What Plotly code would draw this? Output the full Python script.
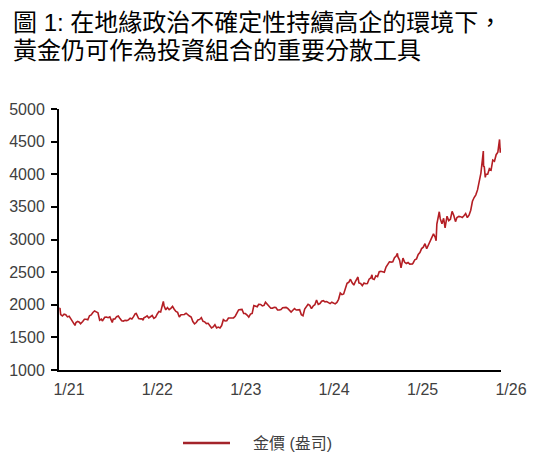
import plotly.graph_objects as go

# ---- data (USD / oz) ----
dates_2021 = ["2021-01-04","2021-01-05","2021-01-08","2021-01-15","2021-01-22","2021-01-29","2021-02-05","2021-02-12",
              "2021-02-19","2021-02-26","2021-03-05","2021-03-08","2021-03-12","2021-03-19","2021-03-26","2021-03-31",
              "2021-04-09","2021-04-16","2021-04-23","2021-04-30","2021-05-07","2021-05-14","2021-05-21","2021-05-28",
              "2021-06-04","2021-06-11","2021-06-18","2021-06-25","2021-06-29","2021-07-09","2021-07-16","2021-07-23",
              "2021-07-30","2021-08-06","2021-08-09","2021-08-13","2021-08-20","2021-08-27","2021-09-03","2021-09-10",
              "2021-09-17","2021-09-24","2021-10-01","2021-10-08","2021-10-15","2021-10-22","2021-10-29","2021-11-05",
              "2021-11-12","2021-11-16","2021-11-19","2021-11-26","2021-12-03","2021-12-10","2021-12-15","2021-12-17",
              "2021-12-24","2021-12-31"]
price_2021 = [1944,1950,1850,1828,1855,1848,1814,1824,
              1784,1734,1700,1683,1727,1745,1732,1708,
              1744,1777,1777,1769,1831,1844,1881,1905,
              1891,1877,1764,1781,1751,1808,1812,1802,
              1814,1763,1729,1780,1781,1818,1827,1788,
              1754,1750,1761,1757,1768,1793,1783,1818,
              1864,1867,1846,1788,1783,1783,1764,1798,
              1811,1829]

dates_2022 = ["2022-01-07","2022-01-14","2022-01-21","2022-01-28","2022-02-04","2022-02-11","2022-02-18","2022-02-25",
              "2022-03-04","2022-03-08","2022-03-11","2022-03-18","2022-03-25","2022-04-01","2022-04-08","2022-04-15",
              "2022-04-22","2022-04-29","2022-05-06","2022-05-13","2022-05-20","2022-05-27","2022-06-03","2022-06-10",
              "2022-06-17","2022-06-24","2022-07-01","2022-07-08","2022-07-15","2022-07-22","2022-07-29","2022-08-05",
              "2022-08-12","2022-08-19","2022-08-26","2022-09-02","2022-09-09","2022-09-16","2022-09-23","2022-09-30",
              "2022-10-07","2022-10-14","2022-10-21","2022-10-28","2022-11-04","2022-11-11","2022-11-18","2022-11-25",
              "2022-12-02","2022-12-09","2022-12-16","2022-12-23","2022-12-30"]
price_2022 = [1797,1818,1835,1791,1808,1859,1898,1889,
              1970,2050,1985,1921,1958,1925,1945,1975,
              1931,1897,1883,1811,1846,1853,1851,1871,
              1840,1827,1811,1742,1708,1727,1766,1775,
              1802,1747,1738,1712,1716,1675,1644,1661,
              1695,1644,1657,1645,1681,1771,1751,1755,
              1797,1797,1793,1798,1824]

dates_2023 = ["2023-01-06","2023-01-13","2023-01-20","2023-01-27","2023-02-03","2023-02-10","2023-02-17","2023-02-24",
              "2023-03-03","2023-03-10","2023-03-17","2023-03-24","2023-03-31","2023-04-06","2023-04-14","2023-04-21",
              "2023-04-28","2023-05-04","2023-05-12","2023-05-19","2023-05-26","2023-06-02","2023-06-09","2023-06-16",
              "2023-06-23","2023-06-30","2023-07-07","2023-07-14","2023-07-21","2023-07-28","2023-08-04","2023-08-11",
              "2023-08-18","2023-08-25","2023-09-01","2023-09-08","2023-09-15","2023-09-22","2023-09-29","2023-10-06",
              "2023-10-13","2023-10-20","2023-10-27","2023-11-03","2023-11-10","2023-11-17","2023-11-24","2023-12-01",
              "2023-12-08","2023-12-15","2023-12-22","2023-12-29"]
price_2023 = [1865,1920,1926,1928,1865,1865,1842,1811,
              1856,1868,1989,1978,1969,2007,2004,1983,
              1990,2040,2011,1978,1946,1948,1961,1958,
              1921,1919,1925,1955,1962,1959,1943,1914,
              1889,1915,1940,1919,1924,1925,1849,1833,
              1933,1981,2006,1992,1940,1981,2001,2072,
              2005,2019,2053,2063]

dates_2024 = ["2024-01-05","2024-01-12","2024-01-19","2024-01-26","2024-02-02","2024-02-09","2024-02-16","2024-02-23",
              "2024-03-01","2024-03-08","2024-03-15","2024-03-22","2024-03-28","2024-04-05","2024-04-12","2024-04-19",
              "2024-04-26","2024-05-03","2024-05-10","2024-05-17","2024-05-20","2024-05-24","2024-05-31","2024-06-07",
              "2024-06-14","2024-06-21","2024-06-28","2024-07-05","2024-07-12","2024-07-17","2024-07-19","2024-07-26",
              "2024-08-02","2024-08-09","2024-08-16","2024-08-23","2024-08-30","2024-09-06","2024-09-13","2024-09-20",
              "2024-09-27","2024-10-04","2024-10-11","2024-10-18","2024-10-25","2024-10-30","2024-11-01","2024-11-08",
              "2024-11-14","2024-11-22","2024-11-29","2024-12-06","2024-12-13","2024-12-20","2024-12-27","2024-12-31"]
price_2024 = [2045,2049,2029,2018,2039,2024,2013,2035,
              2083,2179,2155,2165,2230,2329,2344,2391,
              2337,2301,2360,2415,2425,2334,2327,2294,
              2333,2322,2326,2392,2411,2460,2400,2387,
              2443,2431,2507,2512,2503,2497,2578,2622,
              2658,2653,2657,2721,2747,2787,2736,2685,
              2565,2715,2650,2633,2648,2622,2621,2625]

dates_2025 = ["2025-01-03","2025-01-10","2025-01-17","2025-01-24","2025-01-31","2025-02-07","2025-02-14","2025-02-21",
              "2025-02-28","2025-03-07","2025-03-14","2025-03-21","2025-03-28","2025-04-04","2025-04-08","2025-04-11",
              "2025-04-17","2025-04-21","2025-04-25","2025-05-02","2025-05-09","2025-05-15","2025-05-23","2025-05-30",
              "2025-06-06","2025-06-13","2025-06-20","2025-06-27","2025-07-03","2025-07-11","2025-07-18","2025-07-25",
              "2025-08-01","2025-08-08","2025-08-15","2025-08-22","2025-08-29","2025-09-05","2025-09-12","2025-09-19",
              "2025-09-26","2025-10-03","2025-10-10","2025-10-17","2025-10-20","2025-10-21","2025-10-24","2025-10-28",
              "2025-10-31","2025-11-07","2025-11-14","2025-11-21","2025-11-28","2025-12-05","2025-12-12","2025-12-19",
              "2025-12-26","2025-12-29","2025-12-31"]
price_2025 = [2640,2690,2703,2770,2800,2861,2883,2936,
              2858,2910,2984,3023,3086,3037,2982,3237,
              3327,3425,3319,3240,3325,3180,3357,3289,
              3310,3432,3368,3274,3337,3355,3350,3337,
              3363,3397,3336,3372,3448,3586,3643,3685,
              3760,3887,4018,4251,4356,4125,4113,3953,
              4003,4000,4085,4065,4218,4200,4300,4338,
              4533,4330,4400]

x_tick_dates = ["2021-01-01","2022-01-01","2023-01-01","2024-01-01","2025-01-01","2026-01-01"]
x_tick_labels = ["1/21","1/22","1/23","1/24","1/25","1/26"]
y_ticks = [1000,1500,2000,2500,3000,3500,4000,4500,5000]

series_name = "金價 (盎司)"
title_line1 = "圖 1: 在地緣政治不確定性持續高企的環境下，"
title_line2 = "黃金仍可作為投資組合的重要分散工具"

dates = dates_2021 + dates_2022 + dates_2023 + dates_2024 + dates_2025
prices = price_2021 + price_2022 + price_2023 + price_2024 + price_2025

FONT = "Liberation Sans, Arial, Noto Sans CJK TC, sans-serif"
LINE_COLOR = "#B41E24"
TEXT_GRAY = "#404040"

fig = go.Figure()
fig.add_trace(go.Scatter(x=dates, y=prices, mode="lines", name=series_name,
                         line=dict(color=LINE_COLOR, width=1.6), showlegend=False))

# The page body has an 8px margin, so the figure is offset by 8px; compensate.
OFF = 8
W, H = 535 - OFF, 454 - OFF
# plot area in target-picture px: x 59..501, y 109..370
L, R, T, B = 59 - OFF, 501 - OFF, 109 - OFF, 370 - OFF

def px_x(p):
    return (p - OFF - L) / (R - L)

def px_y(p):
    return (B - (p - OFF)) / (B - T)

fig.update_layout(
    width=W, height=H,
    margin=dict(l=L, r=W - R, t=T, b=H - B, pad=0),
    paper_bgcolor="white", plot_bgcolor="white",
    font=dict(family=FONT, size=16, color=TEXT_GRAY),
    showlegend=False,
    xaxis=dict(type="date", range=["2021-01-01", "2026-01-01"], automargin=False,
               tickmode="array", tickvals=x_tick_dates, ticktext=x_tick_labels,
               showline=True, linecolor="black", linewidth=2, ticks="",
               showgrid=False, zeroline=False, ticklabelshift=10, ticklabelstandoff=4,
               tickfont=dict(size=16, color=TEXT_GRAY, family=FONT)),
    yaxis=dict(range=[1000, 5000], tickmode="array", tickvals=y_ticks, automargin=False,
               showline=True, linecolor="black", linewidth=2,
               ticks="outside", ticklen=6, tickwidth=2, tickcolor="black",
               showgrid=False, zeroline=False, ticklabelstandoff=3,
               tickfont=dict(size=16, color=TEXT_GRAY, family=FONT)),
)

# title (two lines)
fig.add_annotation(text=title_line1, xref="paper", yref="paper", x=px_x(11), y=px_y(22),
                   xanchor="left", yanchor="middle", align="left", showarrow=False,
                   font=dict(family=FONT, size=24, color="black"))
fig.add_annotation(text=title_line2, xref="paper", yref="paper", x=px_x(11), y=px_y(51),
                   xanchor="left", yanchor="middle", align="left", showarrow=False,
                   font=dict(family=FONT, size=24, color="black"))

# legend (drawn at the bottom)
fig.add_shape(type="line", xref="paper", yref="paper", x0=px_x(183), x1=px_x(230),
              y0=px_y(443), y1=px_y(443), line=dict(color="#A3232A", width=2.5))
fig.add_annotation(text=series_name, xref="paper", yref="paper", x=px_x(251), y=px_y(443),
                   xanchor="left", yanchor="middle", align="left", showarrow=False,
                   font=dict(family=FONT, size=16, color=TEXT_GRAY))

fig.write_html("out.html")
